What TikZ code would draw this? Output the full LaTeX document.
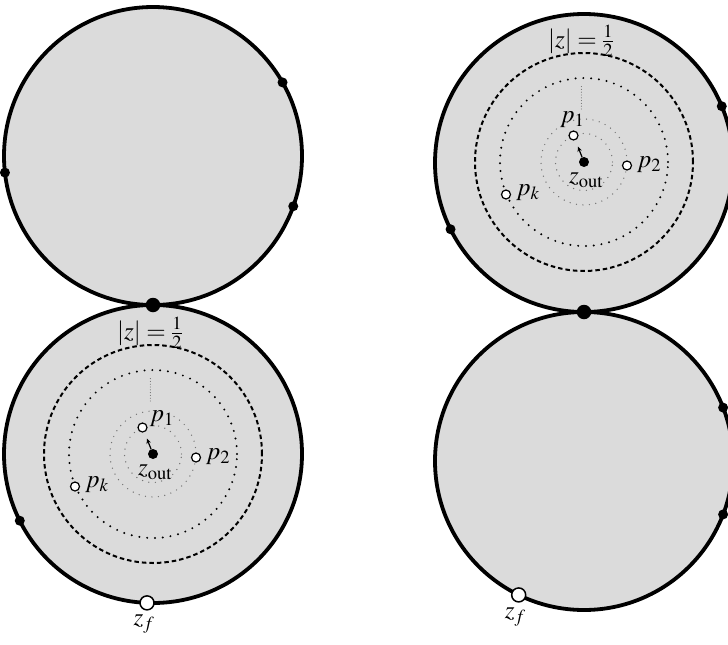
\documentclass[tikz,border=0pt]{standalone}
\usepackage{mathptmx}
\usetikzlibrary{calc,arrows.meta}
\definecolor{diskgray}{RGB}{219,219,219}
\definecolor{faintgray}{RGB}{115,115,115}
\tikzset{
  disk/.style={draw=black, line width=3.8pt, fill=diskgray},
  rimdot/.style={circle, fill=black, inner sep=0pt, minimum size=10pt},
  bigdot/.style={circle, fill=black, inner sep=0pt, minimum size=14.5pt},
  zdot/.style={circle, fill=black, inner sep=0pt, minimum size=10pt},
  opendot/.style={circle, draw=black, line width=1.2pt, fill=white, inner sep=0pt, minimum size=9pt},
  bigopen/.style={circle, draw=black, line width=1.5pt, fill=white, inner sep=0pt, minimum size=14pt},
  lbl/.style={inner sep=0pt, font=\fontsize{25}{29}\selectfont},
  halfcirc/.style={draw=black, dash pattern=on 4.5pt off 3pt, line width=2pt},
  dotcirc/.style={draw=black, dash pattern=on 0pt off 7.8pt, line cap=round, line width=2.2pt},
  faint/.style={draw=faintgray, dash pattern=on 0pt off 6.5pt, line cap=round, line width=1.4pt},
  faintline/.style={draw=faintgray, dash pattern=on 0pt off 2.8pt, line cap=round, line width=1.1pt},
  shortarrow/.style={-{Stealth[length=5pt,width=4.5pt]}, line width=1.2pt}
}
% #1 name prefix, #2 centre, #3 position of the p_1 label
\newcommand{\diskinside}[3]{%
  \begin{scope}[shift={#2}]
    \draw[halfcirc] (0,0) circle[radius=109pt];
    \draw[dotcirc] (0,0) circle[radius=84pt];
    \draw[faint] (0,0) circle[radius=28.5pt];
    \draw[faint] (0,0) circle[radius=43pt];
    \coordinate (#1la) at (-2.6,-53);
    \coordinate (#1lb) at (-2.6,-77);
    \draw[faintline] (#1la) -- (#1lb);
    \node[opendot] (#1p1) at (-10.5,-26.5) {};
    \node[opendot] (#1p2) at (43,3.5) {};
    \node[opendot] (#1pk) at (-78,32.5) {};
    \node[zdot] (#1zout) at (0,0) {};
    \draw[shortarrow] ($(#1zout)!5pt!(#1p1)$) -- ($(#1zout)!16.5pt!(#1p1)$);
    \node[lbl] (#1half) at (-3,-121) {$|z|=\frac12$};
    \node[lbl] (#1zoutlbl) at (2,18.5) {$z_{\mathrm{out}}$};
    \node[lbl] (#1p1lbl) at #3 {$p_1$};
    \node[lbl] (#1p2lbl) at (65,2.5) {$p_2$};
    \node[lbl] (#1pklbl) at (-56,30.5) {$p_k$};
  \end{scope}}
\begin{document}
\begin{tikzpicture}[x=1pt,y=-1pt]
\useasboundingbox (0,0) rectangle (728,645);
\clip (0,0) rectangle (728,645);
% left pair
\coordinate (LT) at (153,156);
\coordinate (LB) at (153,454);
\path[disk] (LT) circle[radius=149pt];
\path[disk] (LB) circle[radius=149pt];
\node[rimdot] (LTd1) at ($(LT)+(-29.6:149)$) {};
\node[rimdot] (LTd2) at ($(LT)+(173.6:149)$) {};
\node[rimdot] (LTd3) at ($(LT)+(19.7:149)$) {};
\node[rimdot] (LBd1) at ($(LB)+(153.4:149)$) {};
\node[bigdot] (Ltouch) at (153,305) {};
\diskinside{L}{(153,454)}{(8.7,-35.5)}
\node[bigopen] (Lzf) at ($(LB)+(92.3:149)$) {};
\node[lbl] (Lzflbl) at ($(Lzf)+(-3,21)$) {$z_f$};
% right pair
\coordinate (RT) at (584,163);
\coordinate (RB) at (584,461);
\path[disk] (RT) circle[radius=149pt];
\path[disk] (RB) circle[radius=149pt];
\node[rimdot] (RTd1) at ($(RT)+(-22.4:149)$) {};
\node[rimdot] (RTd2) at ($(RT)+(153.6:149)$) {};
\node[rimdot] (RBd1) at ($(RB)+(-21:149)$) {};
\node[rimdot] (RBd2) at ($(RB)+(21:149)$) {};
\node[bigdot] (Rtouch) at (584,312) {};
\diskinside{R}{(584,162)}{(-11.8,-42)}
\node[bigopen] (Rzf) at ($(RB)+(116:149)$) {};
\node[lbl] (Rzflbl) at ($(Rzf)+(-3.4,21.7)$) {$z_f$};
\end{tikzpicture}
\end{document}
